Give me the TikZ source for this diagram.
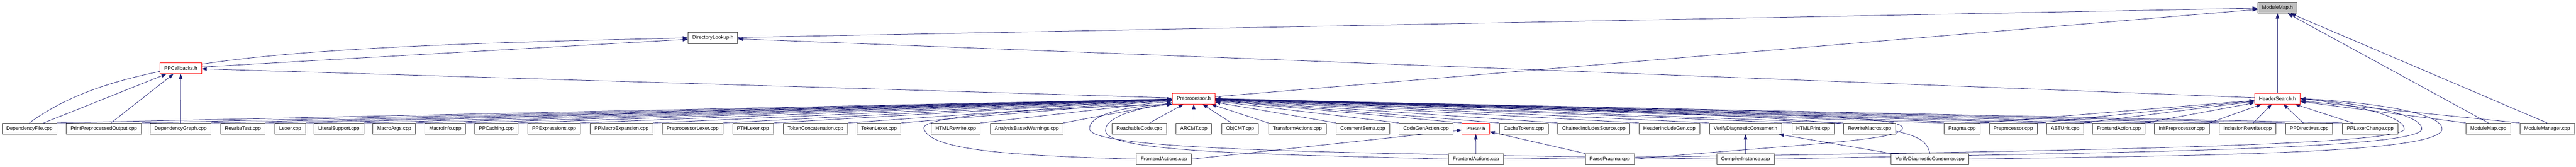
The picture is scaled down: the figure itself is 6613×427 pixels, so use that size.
\documentclass[tikz,border=0pt]{standalone}
\usepackage{fontspec}
\setmainfont{Liberation Sans}
\usetikzlibrary{arrows.meta,backgrounds}
\definecolor{edgeblue}{HTML}{191970}
\tikzset{
  file/.style={draw=black!75, line width=1pt, fill=white, minimum height=28pt,
    inner xsep=11pt, inner ysep=0pt, font=\fontsize{13}{15}\selectfont},
  hdr/.style={file, draw=red},
  topfile/.style={file, fill=black!25},
  dep/.style={edgeblue, line width=1pt, -{Triangle[length=13pt,width=9pt]}},
}
\begin{document}
\begin{tikzpicture}[x=1pt, y=-1pt, line cap=round, line join=round]
  \useasboundingbox (0,0) rectangle (6613,427);
  % headers
  \node[topfile] (ModMapH) at (5846.5,20) {ModuleMap.h};
  \node[file] (DirLookup) at (1830,97) {DirectoryLookup.h};
  \node[hdr] (PPCb) at (464,174.5) {PPCallbacks.h};
  \node[hdr] (PPh) at (3064.5,252) {Preprocessor.h};
  \node[hdr] (HSearch) at (5846.5,252) {HeaderSearch.h};
  % row of sources
  \foreach \x/\n/\t in {75.5/DepFile/DependencyFile.cpp, 266.5/PrintPP/PrintPreprocessedOutput.cpp,
      463.5/DepGraph/DependencyGraph.cpp, 623.5/RewriteTest/RewriteTest.cpp, 745/Lexer/Lexer.cpp,
      870/LitSupport/LiteralSupport.cpp, 1012/MacroArgs/MacroArgs.cpp, 1143/MacroInfo/MacroInfo.cpp,
      1274/PPCaching/PPCaching.cpp, 1422.5/PPExpr/PPExpressions.cpp, 1595.5/PPMacroExp/PPMacroExpansion.cpp,
      1778/PPLexer/PreprocessorLexer.cpp, 1933/PTHLexer/PTHLexer.cpp, 2093.5/TokConcat/TokenConcatenation.cpp,
      2256.5/TokLexer/TokenLexer.cpp, 2453.5/HTMLRewrite/HTMLRewrite.cpp, 2636/AnalysisBW/AnalysisBasedWarnings.cpp,
      2925/Reachable/ReachableCode.cpp, 3064.5/ARCMT/ARCMT.cpp, 3183.5/ObjCMT/ObjCMT.cpp,
      3330.5/TransformAct/TransformActions.cpp, 3498.5/CommentSema/CommentSema.cpp, 3661/CodeGenAct/CodeGenAction.cpp,
      3912/CacheTok/CacheTokens.cpp, 4091.5/Chained/ChainedIncludesSource.cpp, 4285.5/HdrIncGen/HeaderIncludeGen.cpp,
      4481/VDCh/VerifyDiagnosticConsumer.h, 4654.5/HTMLPrint/HTMLPrint.cpp, 4799.5/RewriteMacros/RewriteMacros.cpp,
      5037/Pragma/Pragma.cpp, 5168/PPcpp/Preprocessor.cpp, 5301.5/ASTUnit/ASTUnit.cpp,
      5439.5/FEAction/FrontendAction.cpp, 5601/InitPP/InitPreprocessor.cpp, 5770/InclRewriter/InclusionRewriter.cpp,
      5928/PPDirectives/PPDirectives.cpp, 6084.5/PPLexChange/PPLexerChange.cpp, 6388/ModMapCpp/ModuleMap.cpp,
      6539/ModManager/ModuleManager.cpp}
    \node[file] (\n) at (\x,329) {\t};
  \node[hdr] (Parser) at (3788.5,329) {Parser.h};
  % bottom row
  \node[file] (FEActs) at (2988,407) {FrontendActions.cpp};
  \node[file] (FEActsB) at (3789,407) {FrontendActions.cpp};
  \node[file] (ParsePragma) at (4132.5,407) {ParsePragma.cpp};
  \node[file] (CompInst) at (4481,407) {CompilerInstance.cpp};
  \node[file] (VDCcpp) at (4954.5,407) {VerifyDiagnosticConsumer.cpp};

  \begin{scope}[on background layer]
  % upper edges
  \draw[dep] (DepFile.north) .. controls (300,150) and (700,120) .. (DirLookup.west);
  \draw[dep] (PPCb) -- (DirLookup);
  \foreach \n in {DepFile,PrintPP,DepGraph,PPh} \draw[dep] (\n) -- (PPCb);
  \foreach \n in {DirLookup,PPh,HSearch} \draw[dep] (\n) -- (ModMapH);
  \foreach \n in {ModMapCpp,ModManager} \draw[dep] (\n.north) -- (ModMapH);
  \draw[dep] (HSearch) -- (DirLookup);

  % into Preprocessor.h
  \foreach \n in {DepFile,PrintPP,DepGraph,RewriteTest,Lexer,LitSupport,MacroArgs,MacroInfo,PPCaching,
      PPExpr,PPMacroExp,PPLexer,PTHLexer,TokConcat,TokLexer,HTMLRewrite,AnalysisBW}
    \draw[dep] (\n.north east) -- (PPh);
  \foreach \n in {Reachable,ARCMT,ObjCMT} \draw[dep] (\n) -- (PPh);
  \foreach \n in {TransformAct,CommentSema,CodeGenAct,Parser,CacheTok,Chained,HdrIncGen,VDCh,HTMLPrint,
      RewriteMacros,Pragma,PPcpp,ASTUnit,FEAction,InitPP,InclRewriter,PPDirectives,PPLexChange}
    \draw[dep] (\n.north west) -- (PPh);

  % into HeaderSearch.h
  \foreach \n in {Pragma,PPcpp,ASTUnit,FEAction,InitPP} \draw[dep] (\n.north east) -- (HSearch);
  \foreach \n in {InclRewriter,PPDirectives,PPLexChange} \draw[dep] (\n) -- (HSearch);
  \foreach \n in {ModMapCpp,ModManager} \draw[dep] (\n.north west) -- (HSearch);

  % bottom row edges
  \draw[dep] (FEActs.east) -- (Parser);
  \draw[dep] (FEActsB) -- (Parser);
  \draw[dep] (ParsePragma.north west) -- (Parser);
  \draw[dep] (CompInst) -- (VDCh);
  \draw[dep] (VDCcpp.north west) -- (VDCh);
  \draw[dep] (FEActs.west) .. controls (2600,398) and (2390,385) .. (2372,330)
    .. controls (2358,300) and (2600,280) .. (PPh.south west);
  \draw[dep] (CompInst.west) .. controls (3600,392) and (2800,390) .. (2797,330)
    .. controls (2795,295) and (2880,272) .. (PPh.south west);
  \draw[dep] (FEActsB.west) .. controls (3300,395) and (2842,392) .. (2838,335)
    .. controls (2835,300) and (2920,275) .. (PPh.south west);
  \draw[dep] (ParsePragma.east) .. controls (4600,370) and (4884,360) .. (4884,328)
    .. controls (4884,300) and (4700,290) .. (PPh.east);
  \draw[dep] (VDCcpp.north) .. controls (4935,320) and (4880,300) .. (PPh.east);
  \draw[dep] (FEActsB.east) .. controls (4800,392) and (6172,382) .. (6172,330)
    .. controls (6172,298) and (6050,268) .. (HSearch.east);
  \draw[dep] (CompInst.east) .. controls (5200,392) and (6217,388) .. (6217,330)
    .. controls (6217,292) and (6070,266) .. (HSearch.east);
  \draw[dep] (VDCcpp.east) .. controls (5600,398) and (6269,395) .. (6269,330)
    .. controls (6269,288) and (6090,262) .. (HSearch.east);
  \end{scope}
\end{tikzpicture}
\end{document}
